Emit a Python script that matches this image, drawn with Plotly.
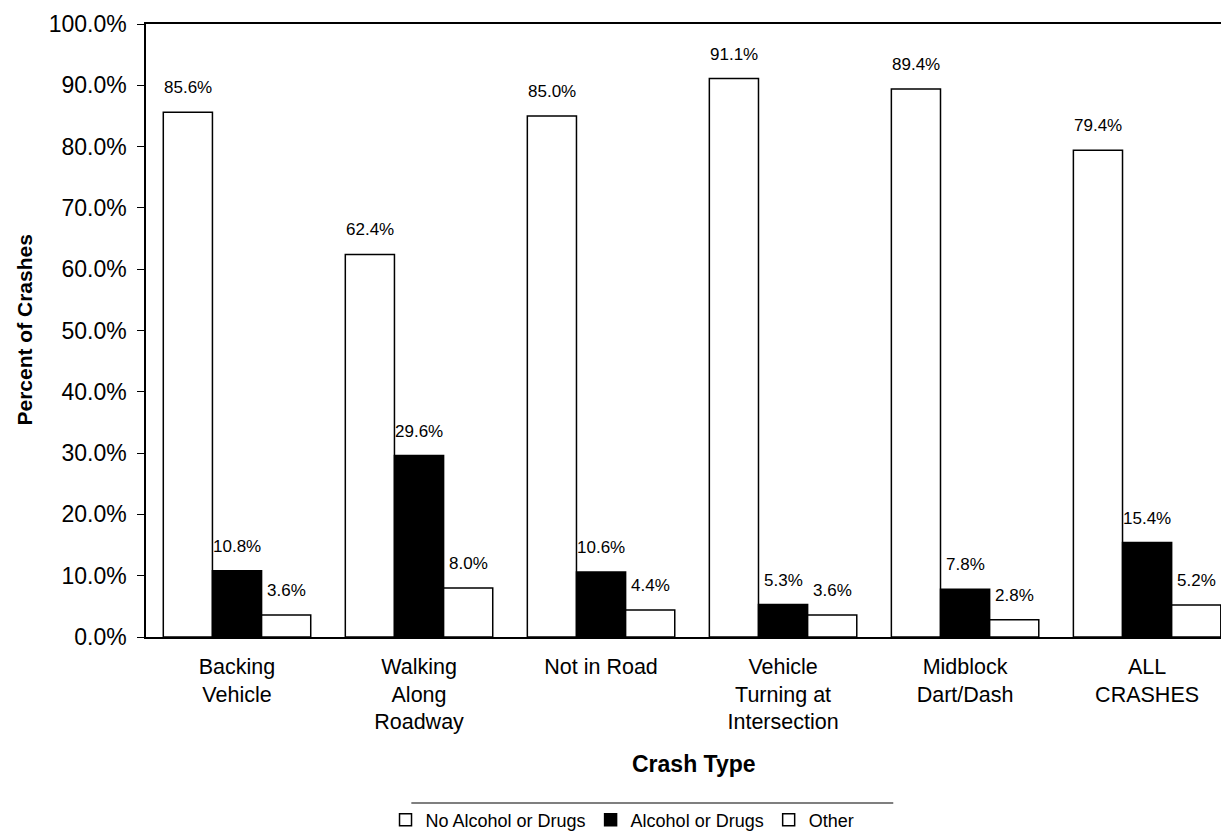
import plotly.graph_objects as go

categories = ["Backing<br>Vehicle", "Walking<br>Along<br>Roadway", "Not in Road",
              "Vehicle<br>Turning at<br>Intersection", "Midblock<br>Dart/Dash", "ALL<br>CRASHES"]
no_alcohol = [85.6, 62.4, 85.0, 91.1, 89.4, 79.4]
alcohol = [10.8, 29.6, 10.6, 5.3, 7.8, 15.4]
other = [3.6, 8.0, 4.4, 3.6, 2.8, 5.2]
series_names = ["No Alcohol or Drugs", "Alcohol or Drugs", "Other"]
y_ticks = [0, 10, 20, 30, 40, 50, 60, 70, 80, 90, 100]

FONT = "Liberation Sans, Arial, sans-serif"
xs = list(range(len(categories)))
fills = ["white", "black", "white"]
series = [no_alcohol, alcohol, other]

fig = go.Figure()
for name, vals, col in zip(series_names, series, fills):
    fig.add_trace(go.Bar(
        x=xs, y=vals, name=name,
        marker=dict(color=col, line=dict(color="black", width=1.5)),
    ))

bw = 0.81 / 3
offsets = [-bw, 0, bw]
for vals, off in zip(series, offsets):
    for i, v in enumerate(vals):
        fig.add_annotation(x=i + off, y=v, text=f"{v:.1f}%", showarrow=False,
                           xanchor="center", yanchor="bottom", yshift=13,
                           font=dict(family=FONT, size=17, color="black"))

# axis titles
fig.add_annotation(xref="paper", yref="paper", x=0, y=0.5, xshift=-122,
                   text="<b>Percent of Crashes</b>", textangle=-90, showarrow=False,
                   xanchor="center", yanchor="middle",
                   font=dict(family=FONT, size=21, color="black"))
fig.add_annotation(xref="paper", yref="paper", x=0.506, y=0, yshift=-127,
                   text="<b>Crash Type</b>", showarrow=False,
                   xanchor="center", yanchor="middle",
                   font=dict(family=FONT, size=23, color="black"))

# legend top rule
fig.add_shape(type="line", xref="paper", yref="paper", x0=0.245, x1=0.690,
              y0=-0.2708, y1=-0.2708, line=dict(color="black", width=1.2))

fig.update_layout(
    width=1221, height=826,
    margin=dict(l=138, r=0, t=16, b=197, autoexpand=False),
    paper_bgcolor="white", plot_bgcolor="white",
    barmode="group", bargap=0.19, bargroupgap=0,
    font=dict(family=FONT, color="black"),
    showlegend=True,
    legend=dict(orientation="h", x=0.44, xanchor="center", y=-0.2985, yanchor="middle",
                font=dict(family=FONT, size=18, color="black"),
                itemwidth=30, bgcolor="rgba(0,0,0,0)"),
    xaxis=dict(range=[-0.5, 5.45], tickmode="array", tickvals=xs,
               ticktext=categories, showline=True, linecolor="black", linewidth=1.5,
               mirror=True, ticks="", showgrid=False, zeroline=False, automargin=False,
               ticklabelstandoff=9,
               tickfont=dict(family=FONT, size=21.5, color="black")),
    yaxis=dict(range=[0, 100], tickmode="array", tickvals=y_ticks,
               ticktext=[f"{t:.1f}%" for t in y_ticks],
               showline=True, linecolor="black", linewidth=1.5, mirror=False,
               ticks="outside", ticklen=7, tickcolor="black", showgrid=False, zeroline=False,
               automargin=False, ticklabelstandoff=6,
               tickfont=dict(family=FONT, size=23, color="black")),
    yaxis2=dict(range=[0, 100], tickmode="array", tickvals=y_ticks, overlaying="y",
                side="left", anchor="x", showline=False, ticks="inside", ticklen=7,
                tickcolor="black", showticklabels=False, showgrid=False, zeroline=False),
)

fig.write_html("out.html")
